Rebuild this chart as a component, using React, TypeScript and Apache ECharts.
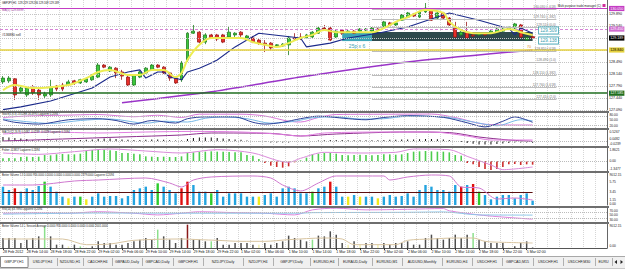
import React, { useEffect, useRef } from 'react';
import * as echarts from 'echarts';

const FONT = 'Liberation Sans, Arial, sans-serif';

// ---------- main pane data (open, close, low, high) ----------
const candles: number[][] = [
  [127.91,128.02,127.85,128.08],[127.94,128.02,127.88,128.08],[128.00,127.53,127.38,128.02],[127.64,127.73,127.59,127.79],
  [127.53,127.73,127.47,127.79],[127.76,127.59,127.53,127.82],[127.67,127.53,127.38,127.73],[127.50,127.56,127.44,127.62],
  [127.53,127.76,127.47,127.97],[127.79,127.70,127.64,127.82],[127.82,127.70,127.64,127.88],[127.82,127.91,127.79,127.97],
  [127.94,127.88,127.82,127.97],[127.88,127.97,127.85,128.00],[127.91,128.00,127.88,128.05],[127.97,128.08,127.94,128.14],
  [128.05,128.40,128.02,128.46],[128.40,128.34,128.31,128.43],[128.23,128.34,128.20,128.37],[128.31,128.17,128.02,128.34],
  [128.20,128.08,127.97,128.26],[128.05,127.82,127.79,128.11],[127.82,128.11,127.79,128.14],[128.05,128.20,128.02,128.23],
  [128.17,128.31,128.14,128.34],[128.26,128.40,128.23,128.43],[128.40,128.34,128.31,128.43],[128.34,128.17,128.14,128.37],
  [128.17,128.02,127.94,128.20],[128.02,127.88,127.85,128.05],[127.97,128.46,127.91,128.52],[128.55,129.33,128.49,129.36],
  [129.33,129.39,129.31,129.57],[129.36,129.07,129.04,129.39],[129.07,129.28,129.01,129.33],[129.28,129.19,129.16,129.31],
  [129.28,129.16,129.10,129.31],[129.28,129.07,129.04,129.31],[129.22,129.36,129.19,129.54],[129.28,129.33,129.22,129.36],
  [129.36,129.28,129.22,129.39],[129.19,129.25,129.13,129.28],[129.19,129.07,129.04,129.25],[129.13,129.04,128.99,129.16],
  [129.04,128.99,128.78,129.13],[129.04,128.90,128.84,129.07],[128.96,128.99,128.93,129.01],[128.96,129.01,128.93,129.04],
  [128.99,129.19,128.69,129.25],[129.19,129.16,129.13,129.33],[129.22,129.19,129.13,129.33],[129.19,129.28,129.16,129.31],
  [129.22,129.36,129.19,129.39],[129.33,129.48,129.31,129.51],[129.48,129.45,129.42,129.57],[129.48,129.13,129.10,129.51],
  [129.22,129.39,129.19,129.42],[129.42,129.33,129.28,129.45],[129.36,129.39,129.33,129.42],[129.39,129.33,129.31,129.42],
  [129.39,129.45,129.33,129.48],[129.42,129.45,129.39,129.48],[129.39,129.48,129.36,129.51],[129.45,129.42,129.39,129.48],
  [129.51,129.66,129.48,129.69],[129.63,129.57,129.54,129.66],[129.57,129.63,129.54,129.66],[129.71,129.86,129.69,129.89],
  [129.80,129.92,129.77,129.95],[129.89,129.83,129.80,129.92],[129.80,129.95,129.77,129.98],[129.95,130.06,129.92,130.21],
  [130.03,129.71,129.69,130.06],[129.77,129.92,129.74,129.95],[129.92,129.77,129.74,129.95],[129.77,129.57,129.54,129.80],
  [129.51,129.22,129.19,129.66],[129.28,129.36,129.25,129.39],[129.36,129.19,129.16,129.66],[129.28,129.25,129.22,129.31],
  [129.28,129.31,129.25,129.33],[129.31,129.28,129.25,129.33],[129.33,129.39,129.31,129.42],[129.36,129.45,129.33,129.48],
  [129.39,129.45,129.36,129.48],[129.45,129.51,129.42,129.54],[129.48,129.60,129.45,129.63],[129.57,129.22,129.19,129.60],
  [129.14,129.20,129.11,129.23],[129.229,129.189,129.169,129.236]
];
const yellowMA = [[0,127.67],[2,127.82],[5,127.73],[11,127.82],[14,128.02],[16,128.20],[18,128.26],[21,128.11],[23,128.11],[25,128.26],[27,128.26],[29,128.05],[30,128.17],[31,128.55],[33,128.99],[35,129.19],[40,129.19],[42,129.07],[44,128.99],[46,128.93],[48,129.04],[50,129.19],[52,129.28],[54,129.42],[56,129.36],[58,129.36],[62,129.36],[64,129.48],[66,129.66],[68,129.80],[71,130.01],[74,129.92],[75,129.66],[77,129.42],[79,129.33],[82,129.33],[85,129.45],[87,129.36],[89,129.28]];
const navyMA = [[0,127.10],[3,127.18],[8,127.35],[13,127.62],[15,127.73],[18,128.05],[21,128.20],[23,128.26],[24,128.02],[26,128.20],[27,128.20],[28,128.05],[30,127.97],[31,128.20],[33,128.31],[35,128.46],[36,128.55],[39,128.93],[41,129.13],[43,129.33],[50,129.19],[51,128.93],[55,129.04],[58,129.19],[63,129.33],[68,129.51],[75,129.92],[80,129.71],[84,129.51],[85,129.48],[86,129.28],[87,129.48],[89,129.33]];
const purpleMA = [[20,127.30],[35,127.62],[50,128.05],[68,128.49],[89,128.84]];
const priceTicks = [127.09,127.44,127.79,128.14,128.49,128.84,129.19,129.54,129.89];
const magentaLevel = 130.05;
const sellLevel = 129.45;
const bidPrice = 129.189;
const yellowLevel = 128.84;
const greenLevel = 127.585;
const fibLevels = [[130.03,'-.618'],[129.74,'-.382'],[129.51,'0.0'],[128.81,'.618'],[128.49,'1.0'],[128.11,'1.382'],[127.76,'1.618'],[127.41,'2.0']];
const fibStart = 62, fibEnd = 93;
const boxTop = 129.365, boxBottom = 129.10;
const tealBox = [57, 62];
const darkBox = [62, 89];

// ---------- sub panes ----------
const stochMain = [[0,55],[2,38],[6,26],[11,55],[16,62],[19,50],[22,26],[25,50],[29,33],[31,62],[34,74],[39,74],[42,38],[44,26],[47,38],[50,62],[53,79],[55,74],[58,62],[61,55],[64,70],[68,82],[74,71],[78,35],[81,7],[84,45],[86,74],[89,38]];
const stochSignal = [[0,60],[4,42],[8,30],[13,50],[18,60],[24,32],[27,45],[31,40],[34,65],[37,74],[41,62],[45,32],[49,45],[52,68],[56,74],[60,60],[64,62],[68,78],[74,74],[79,40],[83,15],[87,55],[89,48]];
const stochLaguerre = [[0,70],[4,80],[10,85],[16,90],[22,75],[26,85],[30,70],[33,92],[40,92],[44,80],[48,45],[50,40],[53,70],[56,90],[66,92],[72,93],[76,70],[81,25],[86,20],[89,20]];

const macdHist = [0.2,0.18,0.15,0.12,0.1,0.04,0.03,0.03,0.02,0.02,0.03,0.03,0.04,0.05,0.06,0.08,0.1,0.12,0.12,0.1,0.08,0.06,0.05,0.05,0.06,0.07,0.07,0.06,0.04,0.02,0.03,0.1,0.15,0.17,0.18,0.17,0.15,0.12,0.1,0.08,0.06,0.03,0.0,-0.03,-0.05,-0.07,-0.08,-0.08,-0.07,-0.05,-0.03,-0.02,0.0,0.02,0.04,0.05,0.05,0.05,0.04,0.04,0.04,0.04,0.04,0.04,0.05,0.06,0.06,0.07,0.08,0.08,0.09,0.1,0.1,0.09,0.08,0.05,0.0,-0.05,-0.1,-0.14,-0.17,-0.18,-0.17,-0.15,-0.12,-0.1,-0.08,-0.07,-0.08,-0.09];
const macdSignal = [[0,0.0],[10,0.1],[20,0.2],[30,0.3],[35,0.4],[45,0.38],[50,0.25],[56,0.35],[68,0.45],[75,0.42],[80,0.2],[85,0.05],[89,-0.02]];
const macdLaguerre = [[0,0.35],[8,0.45],[16,0.4],[24,0.45],[32,0.48],[40,0.45],[46,0.35],[50,0.25],[54,0.4],[66,0.45],[72,0.45],[78,0.25],[82,0.05],[89,0.05]];

const fisher = [0.4,0.45,0.4,0.6,0.65,0.6,0.65,0.9,0.85,1.0,1.05,1.0,1.0,1.1,1.5,1.65,1.75,1.7,1.6,1.5,1.2,1.2,1.1,1.0,0.7,0.65,0.6,0.65,0.6,0.6,0.7,1.2,1.3,1.4,1.4,1.45,1.4,1.4,1.35,1.3,1.3,0.9,0.8,0.3,-0.3,-0.7,-0.9,-1.0,-0.8,-0.2,0.1,0.5,1.0,1.1,1.2,1.2,1.1,0.9,0.85,0.9,0.95,0.9,0.85,0.9,1.0,1.0,0.95,1.0,1.2,1.4,1.45,1.5,1.45,1.4,1.4,1.3,0.9,0.8,-0.3,-0.5,-0.9,-1.2,-1.35,-1.2,-0.9,-0.5,-0.45,-0.6,-0.5,-0.55];
const fisherLaguerre = [[0,1.2],[6,1.0],[12,1.4],[18,1.8],[24,1.5],[30,1.2],[36,1.7],[42,1.2],[46,0.1],[48,-0.2],[50,0.4],[54,1.3],[60,1.2],[66,1.3],[69,1.8],[75,1.7],[78,0.7],[82,-0.6],[84,-1.3],[89,-0.9]];

const volume1 = [5170,4230,4700,3760,4700,4230,5360,6580,5170,3760,2350,1880,2350,2350,1600,2350,3290,2350,2540,2540,1880,2540,4230,4700,5170,4230,6110,5170,4230,3290,4700,6580,5640,3760,3760,3290,4230,2350,3290,3290,3290,2350,2350,2350,2820,3290,2350,4700,5170,4700,3290,3290,3760,4700,5170,6580,5170,2350,2350,2820,2350,2350,2350,1880,2350,2820,2350,2540,3290,2350,4230,5640,5170,4230,4230,3760,5640,5170,5640,5920,3760,2820,1600,2350,2820,2820,1880,2820,3290,1220];
const volume1Kind = 'bbrbbbbgbbbybgybbbbbbbbbbbgbbbrrbbbgbbbbbbbybbbbbbbbgbbrbbybybbybbbbbbbbbbbbbrbrgbbbbbbbbbb';
const volume1Avg = [[0,5640],[5,5640],[12,6770],[16,7050],[24,7610],[28,6200],[30,5080],[32,7050],[35,7900],[42,8180],[45,7610],[47,5640],[50,3950],[53,6200],[56,8180],[64,8180],[65,7050],[68,7900],[72,8460],[75,8180],[77,5080],[80,4790],[83,1690],[86,1970],[89,1410]];
const volume1Climax = 3470;

const rsiLaguerre = [[0,67],[5,69],[11,67],[16,75],[22,67],[26,58],[30,67],[33,75],[39,70],[44,67],[49,58],[52,85],[56,94],[61,85],[68,88],[74,92],[75,80],[80,58],[83,49],[89,35]];
const rsiLine = [[0,62],[16,68],[33,67],[50,67],[52,70],[68,72],[74,74],[80,58],[89,57]];

const volume2 = [3920,3920,3920,1960,3270,3920,4570,8500,4570,1310,1310,650,1310,650,200,650,2610,1960,1960,1310,1310,1960,2610,3270,3920,3270,7190,4570,3270,1960,3920,9150,3270,3270,2610,2610,3920,1310,1310,1960,1960,1960,1310,1310,1960,1310,1960,2610,4840,3920,3270,2610,3270,4840,4570,6540,5230,1960,1310,2610,1310,1960,1960,1310,1960,1310,1960,1960,2610,1310,1310,3920,5230,3920,3270,3920,5230,3920,5230,5880,3270,2610,1960,1960,1960,200,650,1960,2610,200];
const volume2Kind = 'kkkkkkkgkkkpkgpkkkkkkkkkkkgkkkkrkkkgkkkkkkkpkkkkkkkkgkkkkkpkpkkpkkkkkkkkkkkkkkkgkkkkkpkkkk';
const volume2Avg = [[0,3530],[10,3530],[14,1310],[18,1570],[22,3010],[30,3530],[33,3270],[36,3010],[40,2610],[44,2610],[48,3270],[54,3920],[57,3530],[59,1310],[66,1310],[68,3010],[72,3530],[76,3920],[79,3920],[81,2610],[84,2230],[89,1960]];

const timeLabels = ['28 Feb 2012','28 Feb 14:00','28 Feb 18:00','28 Feb 22:00','29 Feb 02:00','29 Feb 06:00','29 Feb 10:00','29 Feb 14:00','29 Feb 18:00','29 Feb 22:00','1 Mar 02:00','1 Mar 06:00','1 Mar 10:00','1 Mar 14:00','1 Mar 18:00','1 Mar 22:00','2 Mar 02:00','2 Mar 06:00','2 Mar 10:00','2 Mar 14:00','2 Mar 18:00','2 Mar 22:00','5 Mar 02:00'];

const tabs: [string, number, number][] = [
  ['GBPJPY,H1',0,28],['USDJPY,H4',28,57],['NZDUSD,H1',57,83],['CADCHF,H4',83,112],['GBPAUD,Daily',112,142],
  ['GBPCAD,Daily',142,173],['GBPCHF,H1',173,203],['NZDJPY,Daily',203,243],['NZDJPY,H4',243,273],['GBPJPY,Daily',273,310],
  ['EURUSD,H4',310,338],['EURAUD,Daily',338,372],['EURUSD,M1',372,402],['AUDUSD,Monthly',402,442],['EURUSD,H4',442,472],
  ['USDCHF,H1',472,502],['GBPCAD,M15',502,533],['USDCHF,H1',533,563],['USDCHF,M30',563,595],['EURU',595,612]
];

const paneTitles: [string, number][] = [
  ['Stoch(5,3,3) 23.5288 26.4970 Laguerre 0.2094', 114.5],
  ['MACD(12,26,9) 0.0482 -0.0239 -0.0228 Laguerre 0.2094', 132.5],
  ['Fisher -0.3817 Laguerre 0.2094', 150.5],
  ['Better Volume 1.3 0.0000 956.0000 0.0000 0.0000 0.0000 0.0000 2379.0000 Laguerre 0.2094', 175.5],
  ['RSI(14) 43.7894 Laguerre 0.2094', 210],
  ['Better Volume 1.4 + Session Average 0.0000 956.0000 0.0000 0.0000 0.0000 2001.0000', 226.5],
];
const paneAxisLabels: [string, number][] = [
  ['80.00',115],['50.00',120],['20.00',125.5],
  ['0.5267',132],['0.0482',139],['-0.0239',143.5],
  ['1.8621',150],['0.00',161],['-1.3477',169],
  ['9012.15',175],['5.75',182],['3.45',192],['1.15',200],['0.00',204],
  ['70.00',211],['50.00',215],['30.00',219.5],
  ['9012.15',226],['0.00',246],
];

const panes = [
  { top: 0, height: 110, min: 127.09, max: 130.298 },
  { top: 113, height: 15, min: 0, max: 100 },
  { top: 130, height: 16, min: -0.25, max: 0.55 },
  { top: 148, height: 23, min: -1.5, max: 1.95 },
  { top: 173, height: 32, min: 0, max: 9024 },
  { top: 208, height: 14, min: 20, max: 95 },
  { top: 224, height: 24, min: 0, max: 9408 },
];
const separators = [111, 128, 146, 171, 206, 222];
const NCAT = 102;

function buildOption() {
  const cats = Array.from({ length: NCAT }, (_, i) => 'c' + i);
  const lbl = (text: string, bg: string | null, fg: string) => ({
    show: true, formatter: text, position: 'end', distance: 2, fontSize: 3.6, fontFamily: FONT, color: fg,
    backgroundColor: bg || 'transparent', padding: bg ? [0.6, 1.2] : 0,
  });
  const gridItems: any[] = priceTicks.map(v => ({
    yAxis: v,
    lineStyle: { type: 'dotted', color: '#c4c4c4', width: 1 },
    label: (v === 129.19 || v === 128.84) ? { show: false } : lbl(v.toFixed(3), null, '#111'),
  }));
  const levelItems: any[] = [
    { yAxis: magentaLevel, lineStyle: { type: 'solid', color: '#c43cc4', width: 1 }, label: lbl(magentaLevel.toFixed(3), '#c43cc4', '#fff') },
    { yAxis: sellLevel, lineStyle: { type: [3, 2], color: '#d785d7', width: 1 }, label: lbl(sellLevel.toFixed(3), '#d06cd0', '#fff') },
    { yAxis: yellowLevel, lineStyle: { type: 'solid', color: '#e6d23e', width: 1.5 }, label: lbl(yellowLevel.toFixed(3), '#e6d23e', '#000') },
    { yAxis: greenLevel, lineStyle: { type: 'solid', color: '#1f6e1f', width: 1.5 }, label: lbl(greenLevel.toFixed(3), '#1f6e1f', '#fff') },
    { yAxis: bidPrice, lineStyle: { color: 'rgba(0,0,0,0)', width: 0 }, label: lbl(bidPrice.toFixed(3), '#000', '#fff') },
  ];
  const fibItems: any[] = fibLevels.map(([p, r]) => {
    const style = { lineStyle: { type: 'solid', color: '#bdbdbd', width: 1 },
      label: { show: true, formatter: `${(p as number).toFixed(3)} (${r})`, position: 'insideEndTop', distance: 0.5, fontSize: 3.3, fontFamily: FONT, color: '#777' } };
    return [{ coord: [fibStart, p], ...style }, { coord: [fibEnd, p], ...style }];
  });

  const grid = panes.map(p => ({ left: 0, right: 18, top: p.top, height: p.height }));
  const xAxis = panes.map((_, k) => ({
    type: 'category', gridIndex: k, data: cats, boundaryGap: true,
    axisLine: { show: k === 6, lineStyle: { color: '#555', width: 1 } },
    axisTick: k === 6 ? { show: true, alignWithLabel: true, length: 2, interval: (i: number) => i % 4 === 0 && i <= 88, lineStyle: { color: '#333' } } : { show: false },
    axisLabel: k === 6 ? {
      show: true, interval: (i: number) => i % 4 === 0 && i <= 88,
      formatter: (_v: string, i: number) => timeLabels[i / 4] || '',
      align: 'left', fontSize: 3.6, fontFamily: FONT, color: '#111', margin: 2,
    } : { show: false },
    splitLine: { show: true, interval: 1, lineStyle: { type: 'dotted', color: '#d6d6d6', width: 1 } },
  }));
  const yAxis = panes.map((p, k) => ({
    type: 'value', gridIndex: k, position: 'right', min: p.min, max: p.max, scale: true,
    axisLine: { show: true, lineStyle: { color: '#666', width: 1 } },
    axisTick: { show: false }, axisLabel: { show: false }, splitLine: { show: false },
  }));

  const line = (k: number, data: any, color: string, width = 1, smooth: any = 0.3, z = 4) => ({
    type: 'line', xAxisIndex: k, yAxisIndex: k, data, showSymbol: false, symbol: 'none', smooth, silent: true, z,
    lineStyle: { color, width },
  });
  const dotted = (k: number, vals: number[], color = '#bbbbbb') => ({
    silent: true, symbol: ['none', 'none'],
    data: vals.map(v => ({ yAxis: v, lineStyle: { type: 'dotted', color, width: 1 }, label: { show: false } })),
  });

  const vol1Colors: any = { b: '#22a3df', r: '#e01010', g: '#2ccc2c', y: '#f0ea1c' };
  const vol2Colors: any = { k: '#4e4e4e', g: '#8ce08c', p: '#f2eeb0', r: '#8b1a1a' };

  const series: any[] = [
    {
      type: 'line', xAxisIndex: 0, yAxisIndex: 0, data: [[0, 128]], showSymbol: false, symbol: 'none', silent: true, z: 1,
      lineStyle: { width: 0, opacity: 0 },
      markLine: { silent: true, symbol: ['none', 'none'], animation: false, data: [...gridItems, ...fibItems, ...levelItems] },
      markArea: {
        silent: true, animation: false,
        data: [
          [{ coord: [tealBox[0], boxTop], itemStyle: { color: '#3ba4b6' },
             label: { show: true, formatter: '25p x 6', position: 'bottom', distance: 2, color: '#3aa0b0', fontSize: 5, fontFamily: FONT } },
           { coord: [tealBox[1], boxBottom] }],
          [{ coord: [darkBox[0], boxTop], itemStyle: { color: '#2e4a4c' }, label: { show: false } }, { coord: [darkBox[1], boxBottom] }],
        ],
      },
    },
    {
      type: 'candlestick', xAxisIndex: 0, yAxisIndex: 0, data: candles, barWidth: 3.4, z: 3, silent: true, clip: false,
      itemStyle: { color: '#3cc83c', color0: '#e8302a', borderColor: '#217f21', borderColor0: '#9a1a1a', borderWidth: 0.8 },
    },
    line(0, purpleMA, '#9a34c8', 1.5, 0.2),
    line(0, navyMA, '#1c2a8a', 1.1, false),
    line(0, yellowMA, '#eded52', 2, 0.35, 5),

    { ...line(1, stochLaguerre, '#d97ad9', 1), markLine: dotted(1, [20, 80]) },
    line(1, stochSignal, '#78b8e6', 1),
    line(1, stochMain, '#2b3f98', 1),

    { type: 'bar', xAxisIndex: 2, yAxisIndex: 2, data: macdHist, barWidth: 1, silent: true, itemStyle: { color: '#111' }, markLine: dotted(2, [0]) },
    line(2, macdSignal, '#8e2f8e', 1),
    line(2, macdLaguerre, '#e07ee0', 1),

    { type: 'bar', xAxisIndex: 3, yAxisIndex: 3, barWidth: 1.6, silent: true,
      data: fisher.map(v => ({ value: v, itemStyle: { color: v >= 0 ? '#4ccc4c' : '#cc2b2b' } })), markLine: dotted(3, [0]) },
    line(3, fisherLaguerre, '#d98ad9', 1),

    { type: 'bar', xAxisIndex: 4, yAxisIndex: 4, barWidth: 2.4, silent: true,
      data: volume1.map((v, i) => ({ value: v, itemStyle: { color: vol1Colors[volume1Kind[i]] } })),
      markLine: { silent: true, symbol: ['none', 'none'], data: [[
        { coord: [0, volume1Climax], lineStyle: { color: '#5c0f0f', width: 1.2, type: 'solid' }, label: { show: false } },
        { coord: [89, volume1Climax] }]] } },
    line(4, volume1Avg, '#cf78cf', 1, 0.3, 5),

    { ...line(5, rsiLaguerre, '#dd85dd', 1), markLine: dotted(5, [70, 40]) },
    line(5, rsiLine, '#8ec6e8', 1),

    { type: 'bar', xAxisIndex: 6, yAxisIndex: 6, barWidth: 1.5, silent: true,
      data: volume2.map((v, i) => ({ value: v, itemStyle: { color: vol2Colors[volume2Kind[i]] } })) },
    line(6, volume2Avg, '#d8c4a0', 1, 0.3, 5),
  ];

  const txt = (text: string, x: number, y: number, size: number, fill: string, align = 'left', extra: any = {}) => ({
    type: 'text', x, y, silent: true, z: 100,
    style: { text, fontSize: size, fontFamily: FONT, fill, align, verticalAlign: 'middle', ...extra },
  });
  const graphic: any[] = [];
  separators.forEach(y => graphic.push({ type: 'rect', silent: true, z: 90, shape: { x: 0, y, width: 609, height: 2 }, style: { fill: '#6e6e6e' } }));
  graphic.push(txt('GBPJPY,H1  129.229 129.236 129.169 129.189', 2, 3.5, 2.7, '#111'));
  graphic.push(txt('MA(5) 129.8899', 2, 9.5, 3, '#a040a0'));
  graphic.push(txt('#136880 sell', 2, 35, 3.3, '#222'));
  graphic.push(txt('Multi purpose trade manager (C)', 601, 5.3, 3, '#222', 'right'));
  graphic.push({ type: 'rect', silent: true, z: 100, shape: { x: 602.5, y: 4, width: 3, height: 3 }, style: { fill: '#d0309a' } });
  const boxStyle = { backgroundColor: '#ffffff', borderColor: '#3aa0b0', borderWidth: 0.8, padding: [0.6, 1.2] };
  graphic.push(txt('129.509', 539, 30.5, 4.6, '#3aa0b0', 'left', boxStyle));
  graphic.push(txt('129.138', 539, 40.5, 4.6, '#3aa0b0', 'left', boxStyle));
  graphic.push(txt('70', 527, 47, 3.6, '#e08a20'));
  paneTitles.forEach(([t, y]) => graphic.push(txt(t, 2, y, 2.7, '#222')));
  paneAxisLabels.forEach(([t, y]) => graphic.push(txt(t, 609.5, y, 3.3, '#222')));

  // tab bar
  graphic.push({ type: 'rect', silent: true, z: 80, shape: { x: 0, y: 256, width: 625, height: 12 }, style: { fill: '#f0f0f0' } });
  graphic.push({ type: 'line', silent: true, z: 81, shape: { x1: 0, y1: 256.5, x2: 625, y2: 256.5 }, style: { stroke: '#a8a8a8', lineWidth: 1 } });
  graphic.push({ type: 'rect', silent: true, z: 82, shape: { x: 0.5, y: 256.5, width: 27.5, height: 11 }, style: { fill: '#ffffff', stroke: '#8a8a8a', lineWidth: 1 } });
  tabs.forEach(([t, x0, x1]) => {
    graphic.push(txt(t, (x0 + x1) / 2, 262, 3.6, '#222', 'center'));
    graphic.push({ type: 'line', silent: true, z: 83, shape: { x1: x1 + 0.5, y1: 258, x2: x1 + 0.5, y2: 266 }, style: { stroke: '#b0b0b0', lineWidth: 1 } });
  });
  graphic.push({ type: 'polygon', silent: true, z: 100, shape: { points: [[617, 260], [617, 264], [614.5, 262]] }, style: { fill: '#222' } });
  graphic.push({ type: 'polygon', silent: true, z: 100, shape: { points: [[620.5, 260], [620.5, 264], [623, 262]] }, style: { fill: '#222' } });
  graphic.push({ type: 'rect', silent: true, z: 80, shape: { x: 0, y: 268, width: 625, height: 5 }, style: { fill: '#ffffff' } });
  graphic.push({ type: 'line', silent: true, z: 81, shape: { x1: 0, y1: 268.5, x2: 625, y2: 268.5 }, style: { stroke: '#c8c8c8', lineWidth: 1 } });

  return {
    animation: false,
    backgroundColor: '#ffffff',
    textStyle: { fontFamily: FONT },
    grid, xAxis, yAxis, series, graphic,
  };
}

export default function App() {
  const ref = useRef<HTMLDivElement>(null);
  useEffect(() => {
    const chart = echarts.init(ref.current!, null, { renderer: 'svg' });
    chart.setOption(buildOption() as any);
    return () => chart.dispose();
  }, []);
  return (
    <div
      ref={ref}
      style={{ position: 'fixed', left: 0, top: 0, width: 625, height: 273, background: '#fff' }}
    />
  );
}
